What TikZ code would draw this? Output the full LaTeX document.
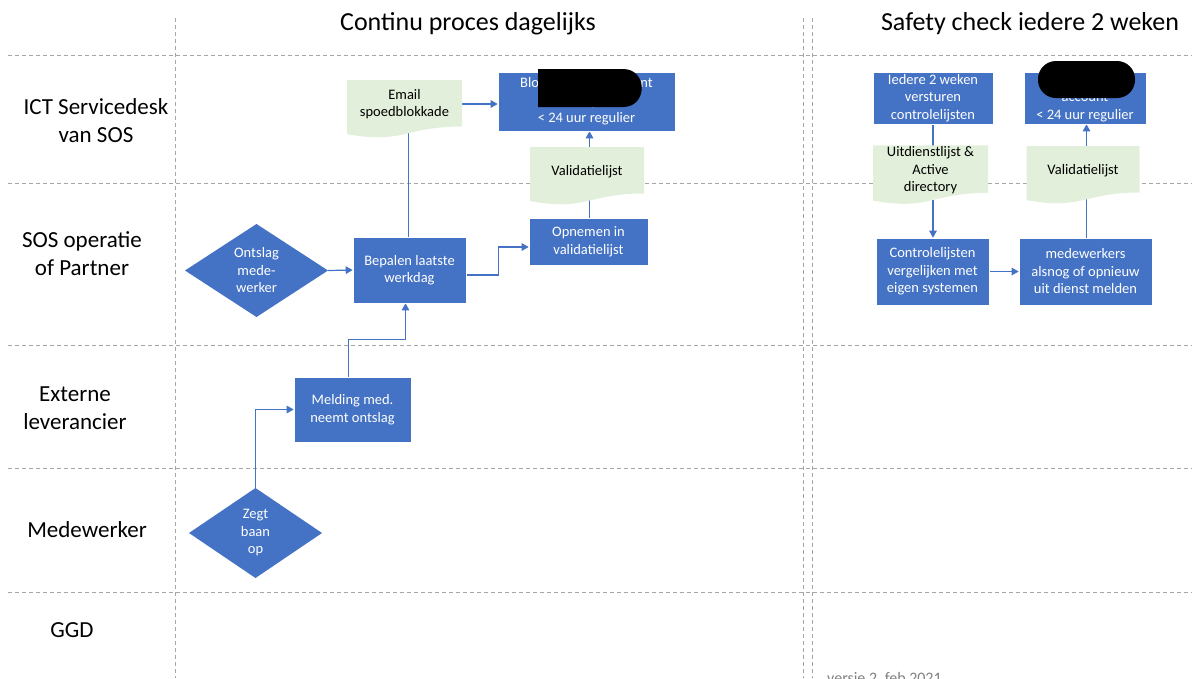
\documentclass[tikz,border=0pt]{standalone}
\usepackage{fontspec}
\setmainfont{Carlito}
\usetikzlibrary{arrows.meta,calc}
\definecolor{boxblue}{HTML}{4472C4}
\definecolor{docgreen}{HTML}{E2EFDA}
\definecolor{gridgray}{HTML}{A6A6A6}
\definecolor{footgray}{HTML}{7F7F7F}
\pgfdeclarelayer{gridlayer}
\pgfdeclarelayer{connlayer}
\pgfsetlayers{gridlayer,connlayer,main}
\newcommand\boxfont{\fontsize{14.5}{17.5}\selectfont}
\newcommand\lanefont{\fontsize{23}{28}\selectfont}
\newcommand\headfont{\fontsize{26}{30}\selectfont}
\tikzset{
  box/.style={rectangle, fill=boxblue, draw=white, line width=0.6pt, text=white,
    align=center, font=\boxfont, inner sep=1pt},
  doc/.style={rectangle, inner sep=1pt, align=center, font=\boxfont, text depth=12pt,
    path picture={\fill[docgreen]
      (path picture bounding box.north west) -- (path picture bounding box.north east)
      -- ($(path picture bounding box.north east)!0.802!(path picture bounding box.south east)$)
      .. controls ($(path picture bounding box.north)!0.802!(path picture bounding box.south)$)
         and ($(path picture bounding box.north)!1.1075!(path picture bounding box.south)$)
      .. ($(path picture bounding box.north west)!0.934!(path picture bounding box.south west)$)
      -- cycle;}},
  dia/.style={rectangle, inner sep=0pt, align=center, text=white, font=\boxfont,
    path picture={\fill[boxblue] (path picture bounding box.north) -- (path picture bounding box.east)
      -- (path picture bounding box.south) -- (path picture bounding box.west) -- cycle;}},
  conn/.style={draw=boxblue, line width=1.2pt, -{Triangle[length=7pt,width=7.5pt]}},
  plainline/.style={draw=boxblue, line width=1.2pt},
  gridline/.style={draw=gridgray, line width=0.9pt, dash pattern=on 4pt off 3pt},
  lane/.style={font=\lanefont, align=center},
  head/.style={font=\headfont},
}
\begin{document}
\begin{tikzpicture}[x=1pt,y=-1pt]
\useasboundingbox (0,0) rectangle (1192,678);

% grid
\begin{pgfonlayer}{gridlayer}
\foreach \yy in {55,183,345,468,592} \draw[gridline] (8,\yy) -- (1192,\yy);
\foreach \xx in {175,803,812} \draw[gridline] (\xx,18) -- (\xx,678);
\end{pgfonlayer}

% headers
\node[head] (h1) at (468,24) {Continu proces dagelijks};
\node[head] (h2) at (1030,24) {Safety check iedere 2 weken};

% lane labels
\node[lane] (l1) at (96,121) {ICT Servicedesk\\van SOS};
\node[lane] (l2) at (82,254) {SOS operatie\\of Partner};
\node[lane] (l3) at (75,408) {Externe\\leverancier};
\node[lane] (l4) at (87,530) {Medewerker};
\node[lane] (l5) at (72,630) {GGD};

% left process
\node[dia, minimum width=143pt, minimum height=93pt] (ont) at (256.5,270.5) {Ontslag\\mede-\\werker};
\node[box, minimum width=113pt, minimum height=66pt] (bep) at (409.5,270) {Bepalen laatste\\werkdag};
\node[box, minimum width=119pt, minimum height=47pt] (opn) at (588.5,241.5) {Opnemen in\\validatielijst};
\node[doc, minimum width=114pt, minimum height=58pt] (val) at (587,176) {Validatielijst};
\node[box, minimum width=177pt, minimum height=59pt] (blk) at (586.5,101.5) {Blokkeren van account\\2 uur spoed\\< 24 uur regulier};
\node[doc, minimum width=115pt, minimum height=58pt] (email) at (404.5,109) {Email\\spoedblokkade};
\node[box, minimum width=117pt, minimum height=65pt] (mel) at (352.5,409.5) {Melding med.\\neemt ontslag};
\node[dia, minimum width=133pt, minimum height=90pt] (zeg) at (255.5,533) {Zegt\\baan\\op};

% right process
\node[box, minimum width=120pt, minimum height=52pt] (ied) at (933,98) {Iedere 2 weken\\versturen\\controlelijsten};
\node[doc, minimum width=115pt, minimum height=58pt] (uit) at (930.5,175) {Uitdienstlijst \&\\Active\\directory};
\node[box, minimum width=113pt, minimum height=67pt] (ctl) at (932.5,271.5) {Controlelijsten\\vergelijken met\\eigen systemen};
\node[box, minimum width=133pt, minimum height=67pt] (mdw) at (1085.5,271.5) {medewerkers\\alsnog of opnieuw\\uit dienst melden};
\node[doc, minimum width=113pt, minimum height=58pt] (valr) at (1083,175) {Validatielijst};
\node[box, minimum width=122pt, minimum height=52pt] (rtop) at (1085,98) {Blokkeren\\account\\< 24 uur regulier};

% connectors
\begin{pgfonlayer}{connlayer}
\draw[conn] (ont.east) -- (bep.west);
\draw[conn] (zeg.north) |- (mel.west);
\draw[conn] ([xshift=-4pt]mel.north) -- ++(0,-37) -| ([xshift=-4pt]bep.south);
\draw[plainline] ([xshift=-1pt]bep.north) -- ([xshift=-1pt]bep.north |- email.center);
\draw[conn] ([yshift=5pt]email.east) -- ([yshift=5pt]email.east -| blk.west);
\draw[conn] ([yshift=-5pt]bep.east) -- ++(32,0) |- ([yshift=-5.5pt]opn.west);
\draw[conn] ([xshift=1pt]opn.north) -- ([xshift=1pt]opn.north |- blk.south);
\draw[conn] (ied.south) -- (ied.south |- ctl.north);
\draw[conn] (ctl.east) -- (ctl.east -| mdw.west);
\draw[conn] ([xshift=1pt]mdw.north) -- ([xshift=1pt]mdw.north |- rtop.south);
\end{pgfonlayer}

% redactions
\fill[black] (538,69) -- (623,69) .. controls (648,69) and (648,107) .. (623,107) -- (538,107) -- cycle;
\fill[black, rounded corners=18pt] (1038,61) rectangle (1135,98);

% footer
\node[anchor=base west, font=\fontsize{16}{19}\selectfont, text=footgray, inner sep=0pt] (foot) at (827,683) {versie 2, feb 2021};
\end{tikzpicture}
\end{document}
